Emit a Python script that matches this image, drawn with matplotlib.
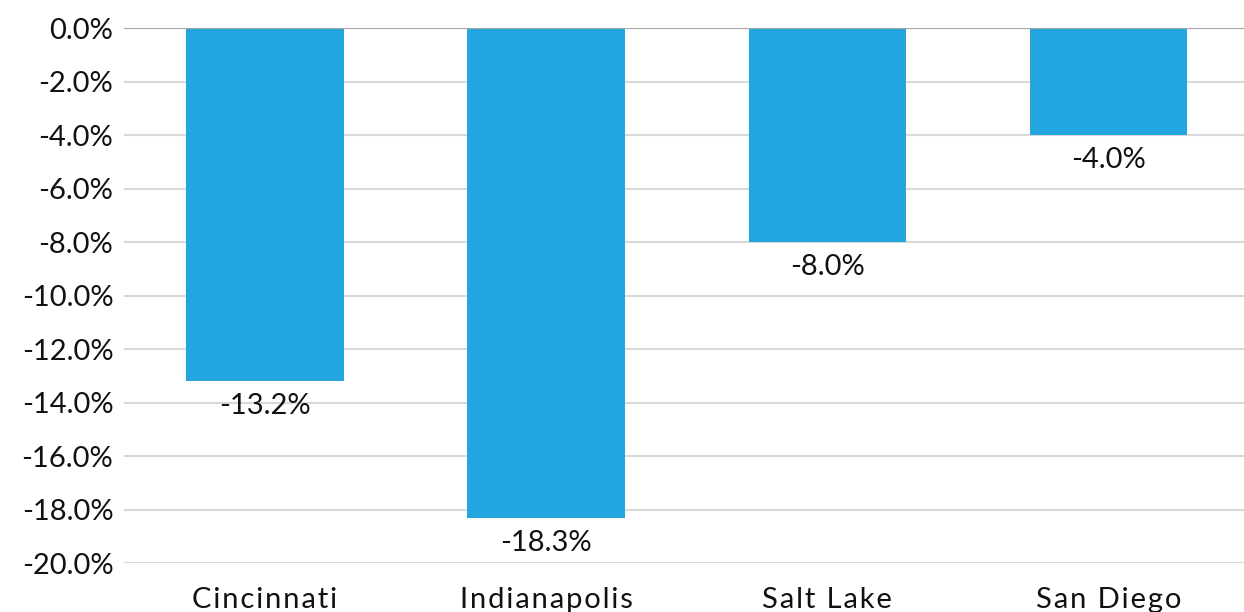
import matplotlib.pyplot as plt
from matplotlib.ticker import FuncFormatter

cities = ["Cincinnati", "Indianapolis", "Salt Lake", "San Diego"]
change = [-13.2, -18.3, -8.0, -4.0]
labels = ["-13.2%", "-18.3%", "-8.0%", "-4.0%"]

plt.rcParams["font.family"] = ["Lato", "DejaVu Sans"]


def spaced(s):
    # the original uses loose letter spacing on the category labels
    return "\u200a".join(s)


fig = plt.figure(figsize=(12.44, 6.12), dpi=100)
ax = fig.add_axes([0.1, 0.08, 0.904, 0.874])

x = range(len(cities))
bars = ax.bar(x, change, width=0.56, color="#23A6E0", zorder=3)

for b, lab in zip(bars, labels):
    ax.text(b.get_x() + b.get_width() / 2, b.get_height() - 0.45, lab,
            ha="center", va="top", fontsize=21, color="#111111")

ax.set_ylim(-20, 0)
ax.set_xlim(-0.5, len(cities) - 0.5)
ax.set_yticks([-20, -18, -16, -14, -12, -10, -8, -6, -4, -2, 0])
ax.yaxis.set_major_formatter(FuncFormatter(lambda v, p: f"{v:.1f}%"))
ax.set_xticks(list(x))
ax.set_xticklabels([spaced(c) for c in cities])
ax.grid(axis="y", color="#D9D9D9", linewidth=1.5, zorder=0)
ax.axhline(0, color="#A6A6A6", linewidth=1.5, zorder=4)
for s in ax.spines.values():
    s.set_visible(False)
ax.tick_params(axis="both", length=0, labelsize=21, colors="#111111")
ax.tick_params(axis="x", pad=17)
ax.tick_params(axis="y", pad=8)

fig.savefig("out.png", dpi=100)
